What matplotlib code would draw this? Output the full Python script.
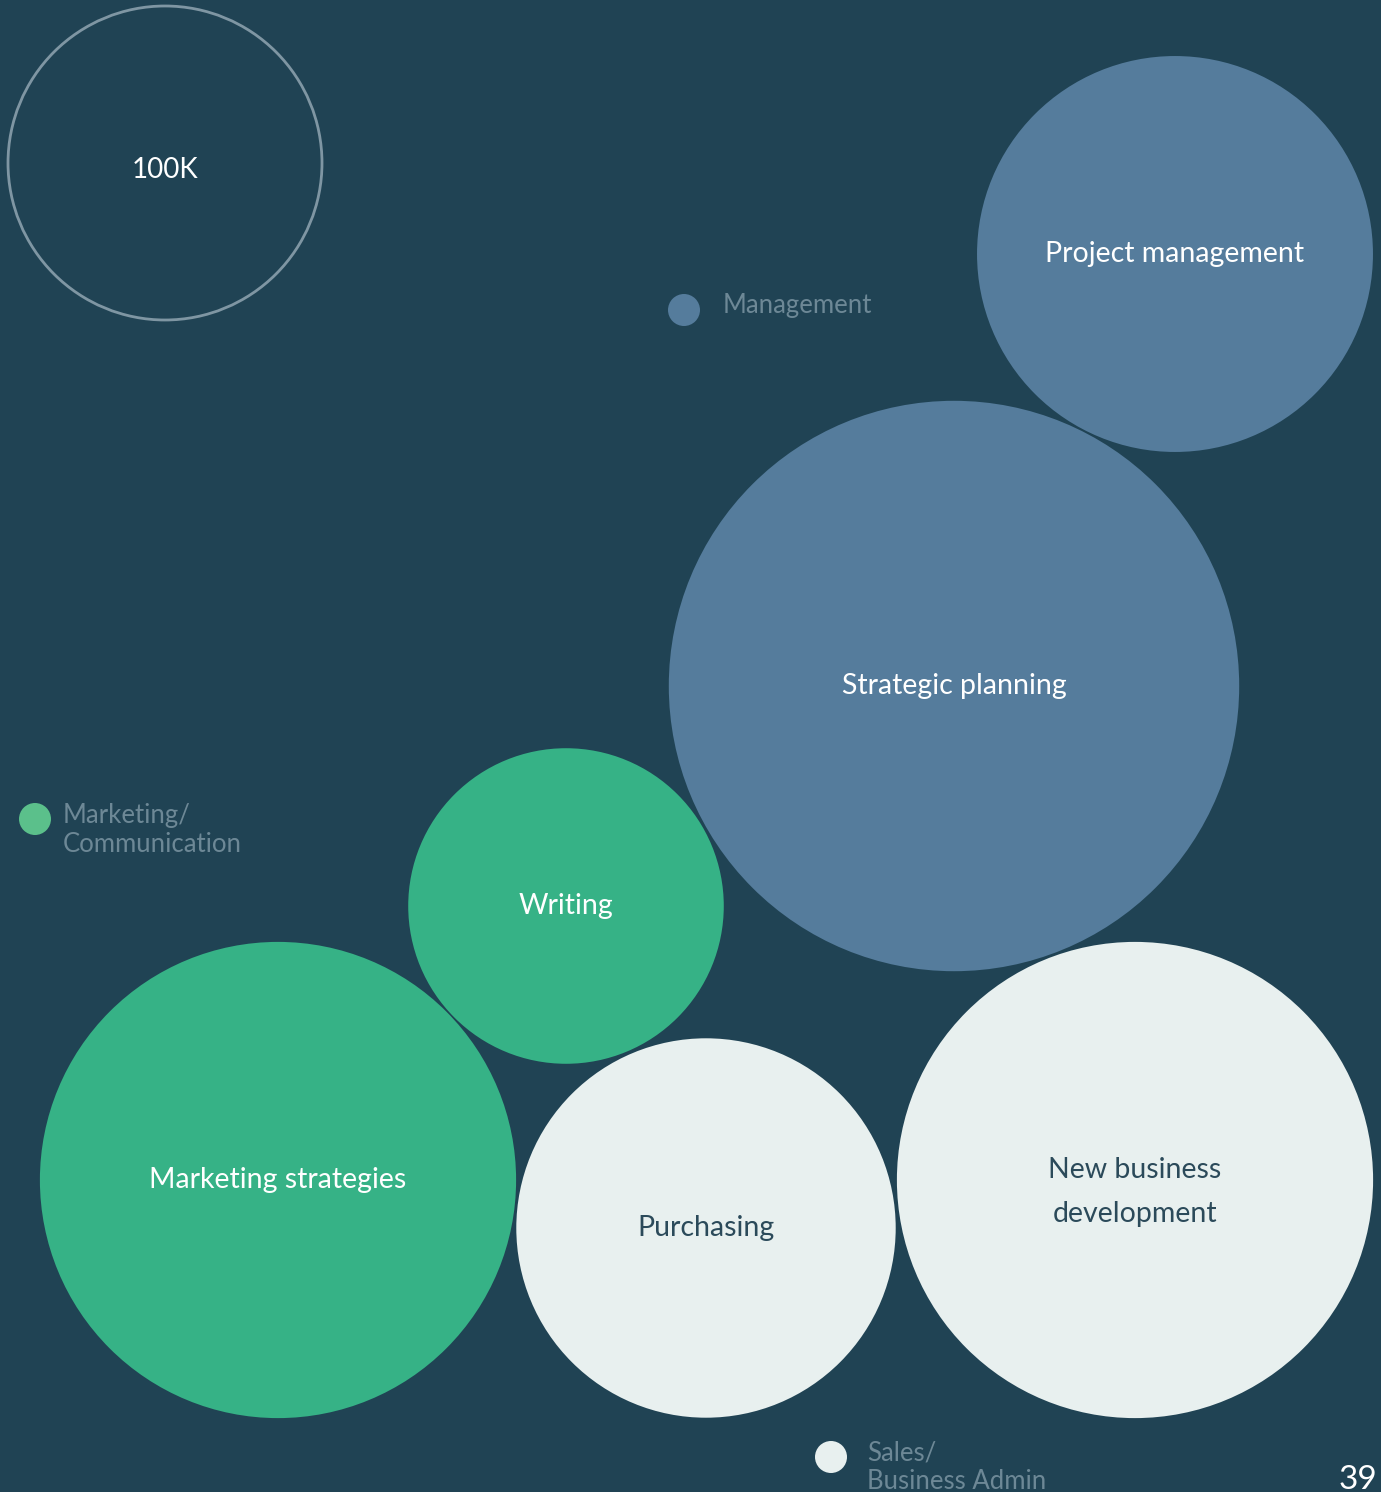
import matplotlib
matplotlib.use("Agg")
import matplotlib.pyplot as plt
from matplotlib.patches import Circle
import numpy as np

# ---- data ----
skills = ["Project management", "Strategic planning", "Writing",
          "Marketing strategies", "Purchasing", "New business\ndevelopment"]
values_k = [159, 330, 101, 230, 146, 230]          # thousands
groups = ["Management", "Management", "Marketing/\nCommunication",
          "Marketing/\nCommunication", "Sales/\nBusiness Admin", "Sales/\nBusiness Admin"]
# bubble layout (pixel space of the page)
pos_x = [1175, 954, 566, 278, 706, 1135]
pos_y = [254, 686, 906, 1180, 1228, 1180]

ref_value_k = 100
ref_label = "100K"
group_names = ["Management", "Marketing/\nCommunication", "Sales/\nBusiness Admin"]
group_colors = {"Management": "#557C9C",
                "Marketing/\nCommunication": "#36B286",
                "Sales/\nBusiness Admin": "#E8F0EF"}
legend_dot_colors = {"Management": "#557C9C",
                     "Marketing/\nCommunication": "#5BC08B",
                     "Sales/\nBusiness Admin": "#E8F0EF"}
text_colors = {"Management": "white",
               "Marketing/\nCommunication": "white",
               "Sales/\nBusiness Admin": "#2B4A5A"}
legend_x = [684, 35, 831]
legend_y = [310, 819, 1457]
page_number = "39"

BG = "#204354"
R100 = 157.0

plt.rcParams['font.family'] = ['Lato', 'DejaVu Sans']

W, H = 1381, 1492
fig = plt.figure(figsize=(W / 100, H / 100), dpi=100, facecolor=BG)
ax = fig.add_axes([0, 0, 1, 1])
ax.set_facecolor(BG)
ax.set_xlim(0, W)
ax.set_ylim(H, 0)
ax.set_aspect('equal')
ax.axis('off')

def radius(v):
    return R100 * np.sqrt(v / ref_value_k)

# reference circle
ax.add_patch(Circle((165, 163), radius(ref_value_k), facecolor='none',
                    edgecolor='#7F96A3', linewidth=2))
ax.text(165, 170, ref_label, color='white', fontsize=20, fontweight='normal',
        ha='center', va='center')

for name, v, g, x, y in zip(skills, values_k, groups, pos_x, pos_y):
    ax.add_patch(Circle((x, y), radius(v), facecolor=group_colors[g],
                        edgecolor='none'))
    ax.text(x, y + (12 if "\n" in name else 0), name, color=text_colors[g],
            fontsize=20.5, fontweight='normal', ha='center', va='center',
            linespacing=1.85)

legend_dy = [-4, 11, 10]
legend_dx = [39, 28, 36]
for g, lx, ly, dx, dy in zip(group_names, legend_x, legend_y, legend_dx, legend_dy):
    ax.add_patch(Circle((lx, ly), 16, facecolor=legend_dot_colors[g], edgecolor='none'))
    ax.text(lx + dx, ly + dy, g, color='#6D8896', fontsize=18.5,
            fontweight='normal', ha='left', va='center', linespacing=1.2)

ax.text(1358, 1489, page_number, color='white', fontsize=24, fontweight='normal',
        ha='center', va='baseline')

fig.savefig("out.png", dpi=100, facecolor=BG)
